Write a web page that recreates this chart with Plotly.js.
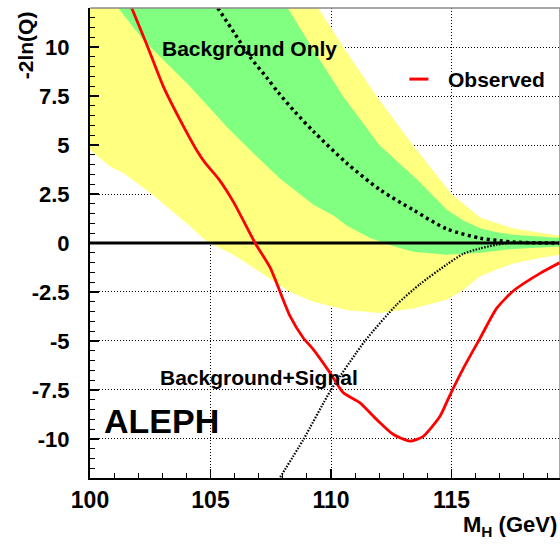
<!DOCTYPE html>
<html>
<head>
<meta charset="utf-8">
<script src="https://cdn.plot.ly/plotly-3.0.1.min.js"></script>
<style>html,body{margin:0;padding:0;background:#fff;}#chart{width:560px;height:544px;}</style>
</head>
<body>
<div id="chart"></div>
<script>
// ---- data ----
const observedM = [101.73, 102.35, 103.04, 103.73, 104.42, 104.77, 105.32, 105.95, 106.85, 107.47, 108.3, 108.85, 109.27, 109.96, 110.51, 111.2, 111.9, 112.59, 113.28, 113.83, 114.52, 114.94, 115.49, 116.18, 116.87, 117.56, 118.67, 119.5];
const observedQ = [12, 10.15, 8.0, 6.3, 4.75, 4.1, 3.3, 2.1, 0, -1.25, -3.74, -4.85, -5.44, -6.63, -7.65, -8.16, -9.02, -9.78, -10.12, -9.87, -8.85, -7.75, -6.4, -4.87, -3.34, -2.45, -1.55, -1.0];

const bkgM = [105.3, 106.0, 106.64, 107.33, 107.8, 108.5, 109.27, 110.65, 112.03, 113.42, 114.8, 116.18, 117.0, 117.56, 118.5, 119.5];
const bkgQ = [12, 10.7, 9.5, 8.45, 7.7, 6.7, 5.7, 4.08, 2.72, 1.68, 0.72, 0.25, 0.12, 0.05, 0.01, 0];

const sigM = [107.82, 108.85, 110.0, 111.41, 112.72, 113.69, 114.8, 115.49, 116.18, 116.87, 117.56, 118.5, 119.5];
const sigQ = [-12.1, -10.04, -7.5, -5.0, -3.15, -2.1, -1.1, -0.55, -0.28, -0.09, 0.02, 0.01, 0];

const green1UpM = [100, 104, 108.2, 109.2, 110.5, 112.0, 113.6, 114.8, 115.49, 116.18, 116.87, 117.56, 119.5];
const green1UpQ = [22, 16.5, 12, 10, 7.5, 5.0, 3.2, 1.7, 1.15, 0.75, 0.55, 0.42, 0.26];
const green1LoM = [100, 101.17, 102.21, 104.15, 105.7, 106.92, 107.88, 108.71, 109.27, 110.1, 110.65, 111.62, 112.03, 112.7, 113.42, 114.8, 116.18, 117.56, 119.5];
const green1LoQ = [13.6, 12, 10.37, 7.99, 5.9, 4.42, 3.3, 2.5, 1.95, 1.4, 0.9, 0.25, 0.1, -0.2, -0.45, -0.6, -0.5, -0.3, -0.18];

const yellow2UpM = [100, 105, 109.47, 110.51, 111.89, 113.39, 115.0, 116.18, 117.56, 119.5];
const yellow2UpQ = [24, 18, 12, 10, 7.5, 5.0, 2.5, 1.3, 0.74, 0.37];
const yellow2LoM = [100, 100.83, 101.38, 102.56, 104.15, 104.84, 105.95, 107.33, 108.3, 109.27, 110.1, 110.65, 112.03, 113.42, 114.8, 115.49, 116.18, 116.87, 117.56, 118.5, 119.5];
const yellow2LoQ = [4.76, 3.91, 3.57, 2.5, 0.85, 0.08, -0.6, -1.7, -2.5, -3.0, -3.25, -3.42, -3.58, -3.34, -2.9, -2.4, -1.7, -1.35, -1.05, -0.8, -0.6];

const xRange = [100, 119.5];
const yRange = [-12, 12];
const xTickVals = [100, 105, 110, 115];
const xTickText = ['100', '105', '110', '115'];
const yTickVals = [-10, -7.5, -5, -2.5, 0, 2.5, 5, 7.5, 10];
const yTickText = ['-10', '-7.5', '-5', '-2.5', '0', '2.5', '5', '7.5', '10'];

// ---- build ----
function band(upX, upY, loX, loY) {
  return {
    x: upX.concat(loX.slice().reverse()),
    y: upY.concat(loY.slice().reverse())
  };
}
const yb = band(yellow2UpM, yellow2UpQ, yellow2LoM, yellow2LoQ);
const gb = band(green1UpM, green1UpQ, green1LoM, green1LoQ);

const FONT = 'Liberation Sans, Arial, Helvetica, sans-serif';

const traces = [
  {x: yb.x, y: yb.y, type: 'scatter', mode: 'lines', fill: 'toself',
   fillcolor: 'rgb(255,255,128)', line: {width: 0, color: 'rgba(0,0,0,0)'}, hoverinfo: 'skip'},
  {x: gb.x, y: gb.y, type: 'scatter', mode: 'lines', fill: 'toself',
   fillcolor: 'rgb(128,255,128)', line: {width: 0, color: 'rgba(0,0,0,0)'}, hoverinfo: 'skip'},
  {x: xRange, y: [0, 0], type: 'scatter', mode: 'lines',
   line: {color: 'black', width: 3}, hoverinfo: 'skip'},
  {x: sigM, y: sigQ, type: 'scatter', mode: 'lines',
   line: {color: 'black', width: 2.2, dash: '1.5px,1.5px', shape: 'spline', smoothing: 0.6}},
  {x: bkgM, y: bkgQ, type: 'scatter', mode: 'lines',
   line: {color: 'black', width: 3.5, dash: '3px,3.5px', shape: 'spline', smoothing: 0.8}},
  {x: observedM, y: observedQ, type: 'scatter', mode: 'lines', name: 'Observed',
   line: {color: 'rgb(255,0,0)', width: 2.8, shape: 'spline', smoothing: 0.6}}
];

const layout = {
  width: 560, height: 544,
  margin: {l: 90, r: 0, t: 8, b: 66, pad: 0},
  paper_bgcolor: 'white', plot_bgcolor: 'white',
  showlegend: false,
  hovermode: false,
  font: {family: FONT, color: 'black'},
  xaxis: {
    range: xRange, autorange: false,
    tickvals: xTickVals, ticktext: xTickText,
    ticks: 'inside', ticklen: 9, tickwidth: 1.5, tickcolor: 'black',
    tickfont: {family: FONT, size: 23, color: 'black', weight: 'bold'},
    showline: true, linecolor: 'black', linewidth: 2, mirror: false,
    showgrid: true, gridcolor: 'black', gridwidth: 1, griddash: '1px,2px',
    zeroline: false,
    minor: {dtick: 1, tick0: 100, ticks: 'inside', ticklen: 5, tickwidth: 1, tickcolor: 'black', showgrid: false}
  },
  yaxis: {
    range: yRange, autorange: false,
    tickvals: yTickVals, ticktext: yTickText,
    ticks: 'inside', ticklen: 9, tickwidth: 1.5, tickcolor: 'black',
    ticklabelstandoff: 14,
    tickfont: {family: FONT, size: 22, color: 'black', weight: 'bold'},
    showline: true, linecolor: 'black', linewidth: 2, mirror: false,
    showgrid: true, gridcolor: 'black', gridwidth: 1, griddash: '1px,2px',
    zeroline: false,
    minor: {dtick: 0.5, tick0: 0, ticks: 'inside', ticklen: 5, tickwidth: 1, tickcolor: 'black', showgrid: false}
  },
  shapes: [
    {type: 'line', xref: 'x domain', yref: 'y domain', x0: 0, x1: 1, y0: 1, y1: 1,
     line: {color: '#8a8a8a', width: 1.5}, layer: 'above'},
    {type: 'line', xref: 'x domain', yref: 'y domain', x0: 1, x1: 1, y0: 0, y1: 1,
     line: {color: '#8a8a8a', width: 1.5}, layer: 'above'},
    {type: 'line', xref: 'x', yref: 'y', x0: 113.25, x1: 114.04, y0: 8.37, y1: 8.37,
     line: {color: 'rgb(255,0,0)', width: 3}, layer: 'above'}
  ],
  annotations: [
    {text: 'Observed', xref: 'x', yref: 'y', x: 114.78, y: 8.37, xanchor: 'left', yanchor: 'middle',
     showarrow: false, font: {family: FONT, size: 21, color: 'black', weight: 'bold'}},
    {text: 'Background Only', xref: 'x', yref: 'y', x: 106.6, y: 9.95, xanchor: 'center', yanchor: 'middle',
     showarrow: false, font: {family: FONT, size: 21, color: 'black', weight: 'bold'}},
    {text: 'Background+Signal', xref: 'x', yref: 'y', x: 107.02, y: -6.85, xanchor: 'center', yanchor: 'middle',
     showarrow: false, font: {family: FONT, size: 21, color: 'black', weight: 'bold'}},
    {text: 'ALEPH', xref: 'x', yref: 'y', x: 102.95, y: -9.1, xanchor: 'center', yanchor: 'middle',
     showarrow: false, font: {family: FONT, size: 34, color: 'black', weight: 'bold'}},
    {text: '-2ln(Q)', xref: 'paper', yref: 'paper', x: -0.1365, y: 0.997, xanchor: 'center', yanchor: 'top',
     textangle: -90, showarrow: false, font: {family: FONT, size: 21, color: 'black', weight: 'bold'}},
    {text: 'M<sub>H</sub> (GeV)', xref: 'paper', yref: 'paper', x: 0.998, y: -0.103, xanchor: 'right', yanchor: 'middle',
     showarrow: false, font: {family: FONT, size: 22, color: 'black', weight: 'bold'}}
  ]
};

Plotly.newPlot('chart', traces, layout, {staticPlot: true, displayModeBar: false});
</script>
</body>
</html>
